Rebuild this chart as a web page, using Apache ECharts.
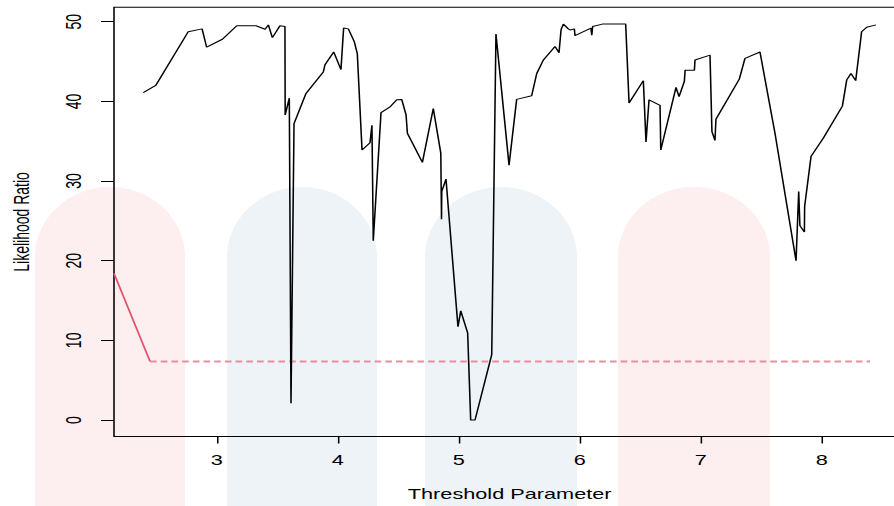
<!DOCTYPE html>
<html><head><meta charset="utf-8">
<script src="https://cdn.jsdelivr.net/npm/echarts@6/dist/echarts.min.js"></script>
<style>
html,body{margin:0;padding:0;background:#fff;overflow:hidden;width:894px;height:506px}
#wrap{position:absolute;left:0;top:0;width:576.77px;height:506px;transform:scaleX(1.55);transform-origin:0 0}
#chart{width:100%;height:100%}
</style></head><body><div id="wrap"><div id="chart"></div></div>
<script>
// ---- data ----
const thresholds = [2.393, 2.496, 2.765, 2.879, 2.917, 3.047, 3.166, 3.325, 3.40, 3.427, 3.46, 3.523, 3.564, 3.566, 3.60, 3.614, 3.639, 3.738, 3.881, 3.895, 3.967, 4.027, 4.049, 4.088, 4.137, 4.162, 4.201, 4.267, 4.283, 4.294, 4.358, 4.432, 4.488, 4.529, 4.565, 4.576, 4.70, 4.790, 4.852, 4.858, 4.860, 4.895, 4.994, 5.017, 5.074, 5.099, 5.135, 5.273, 5.308, 5.416, 5.479, 5.603, 5.645, 5.70, 5.796, 5.829, 5.846, 5.865, 5.906, 5.92, 5.956, 5.961, 6.093, 6.10, 6.107, 6.187, 6.38, 6.408, 6.526, 6.548, 6.573, 6.664, 6.67, 6.796, 6.821, 6.865, 6.871, 6.948, 6.953, 7.077, 7.093, 7.118, 7.126, 7.319, 7.366, 7.490, 7.614, 7.788, 7.810, 7.82, 7.857, 7.859, 7.912, 8.014, 8.171, 8.207, 8.242, 8.281, 8.33, 8.372, 8.449];
const likelihood = [41.1, 42.0, 48.75, 49.1, 46.8, 47.8, 49.5, 49.5, 49.05, 49.6, 48.0, 49.5, 49.4, 38.3, 40.4, 2.1, 37.2, 41.0, 43.7, 44.6, 46.2, 44.0, 49.2, 49.1, 47.5, 46.0, 33.9, 34.8, 37.0, 22.5, 38.6, 39.3, 40.2, 40.25, 38.3, 36.0, 32.35, 39.1, 33.5, 25.2, 28.7, 30.25, 11.7, 13.7, 10.95, 0, 0, 8.2, 48.45, 32.0, 40.25, 40.7, 43.5, 45.2, 46.9, 46.1, 49.0, 49.7, 49.1, 48.96, 49.1, 48.25, 49.2, 48.3, 49.4, 49.7, 49.7, 39.8, 42.6, 34.9, 40.2, 39.5, 33.9, 41.75, 40.6, 42.5, 43.9, 43.9, 45.2, 45.8, 36.2, 35.1, 37.75, 42.8, 45.4, 46.2, 36.0, 20.0, 28.7, 24.4, 23.6, 26.8, 33.1, 35.4, 39.4, 42.7, 43.5, 42.6, 48.75, 49.3, 49.6];
const refX = [2.1512, 2.449];
const refY = [18.4, 7.35];
const critX = [2.449, 8.40];
const critY = [7.35, 7.35];
const xTicks = [3, 4, 5, 6, 7, 8];
const yTicks = [0, 10, 20, 30, 40, 50];
const xTitle = 'Threshold Parameter';
const yTitle = 'Likelihood Ratio';

// ---- layout / style ----
const SX = 1.55; // horizontal stretch of the reference image
const FONT = "'Liberation Sans', Arial, Helvetica, sans-serif";
const RED = '#DF536B';
const PINK = '#EA8E9E';
const pairs = (xs, ys) => xs.map((x, i) => [x, ys[i]]);

const marks = [
  {x0: 35, x1: 185, c: '#FDEEEF'},
  {x0: 227, x1: 377, c: '#EEF3F8'},
  {x0: 425, x1: 577, c: '#EEF3F8'},
  {x0: 618, x1: 770, c: '#FDEEEF'}
];
const graphics = [];
marks.forEach(m => {
  const cx = (m.x0 + m.x1) / 2 / SX, rx = (m.x1 - m.x0) / 2 / SX;
  graphics.push({type: 'ellipse', z: -10, silent: true, shape: {cx: cx, cy: 257, rx: rx, ry: 70}, style: {fill: m.c}});
  graphics.push({type: 'rect', z: -10, silent: true, shape: {x: m.x0 / SX, y: 257, width: (m.x1 - m.x0) / SX, height: 260}, style: {fill: m.c}});
});

const chart = echarts.init(document.getElementById('chart'), null, {renderer: 'svg'});
chart.setOption({
  animation: false,
  backgroundColor: 'transparent',
  color: [RED, PINK, '#000'],
  graphic: graphics,
  grid: {left: 114 / SX, top: 7.3, width: (905.3 - 114) / SX, height: 429.2,
         containLabel: false, outerBoundsMode: 'none',
         show: true, borderColor: '#000', borderWidth: 1, backgroundColor: 'transparent'},
  xAxis: {
    type: 'value', min: 2.1512, max: 8.691,
    name: xTitle, nameLocation: 'middle', nameGap: 51,
    nameTextStyle: {fontFamily: FONT, fontSize: 14, color: '#000'},
    axisLine: {show: false, onZero: false},
    axisTick: {show: true, length: 7, lineStyle: {color: '#000', width: 1}, customValues: xTicks},
    axisLabel: {fontFamily: FONT, fontSize: 14, color: '#000', margin: 17, customValues: xTicks},
    splitLine: {show: false}
  },
  yAxis: {
    type: 'value', min: -2.07, max: 51.81,
    name: yTitle, nameLocation: 'middle', nameGap: 53,
    nameTextStyle: {fontFamily: FONT, fontSize: 14, color: '#000'},
    axisLine: {show: false, onZero: false},
    axisTick: {show: true, length: 8.4, lineStyle: {color: '#000', width: 1}, customValues: yTicks},
    axisLabel: {fontFamily: FONT, fontSize: 14, color: '#000', margin: 19, rotate: 90, customValues: yTicks},
    splitLine: {show: false}
  },
  series: [
    {type: 'line', data: pairs(refX, refY), showSymbol: false, silent: true, color: RED,
     itemStyle: {color: RED}, lineStyle: {color: RED, width: 1.2}},
    {type: 'line', data: pairs(critX, critY), showSymbol: false, silent: true, color: PINK,
     itemStyle: {color: PINK}, lineStyle: {color: PINK, width: 2, type: [4.3, 2.6]}},
    {type: 'line', data: pairs(thresholds, likelihood), showSymbol: false, silent: true, color: '#000',
     lineStyle: {color: '#000', width: 1}}
  ]
});
</script></body></html>
